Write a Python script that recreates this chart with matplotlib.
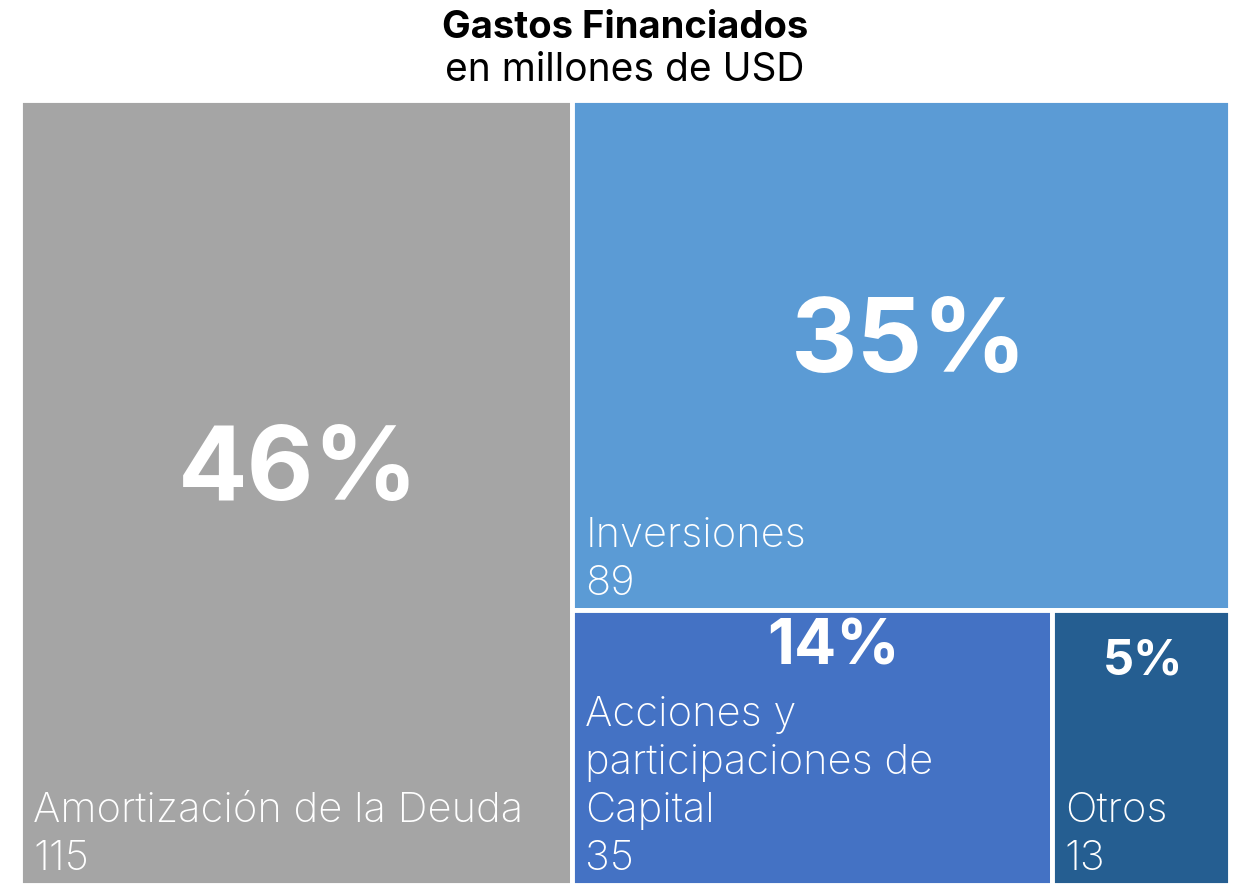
import matplotlib.pyplot as plt
from matplotlib.patches import Rectangle

# datos del treemap
categorias = ["Amortización de la Deuda", "Inversiones", "Acciones y\nparticipaciones de\nCapital", "Otros"]
valores = [115, 89, 35, 13]
porcentajes = ["46%", "35%", "14%", "5%"]
colores = ["#A5A5A5", "#5B9BD5", "#4472C4", "#255E91"]

plt.rcParams['font.family'] = ['Inter', 'DejaVu Sans']

W, H = 1240, 885
fig = plt.figure(figsize=(W / 100, H / 100), dpi=100)
ax = fig.add_axes([0, 0, 1, 1])
ax.set_xlim(0, W)
ax.set_ylim(H, 0)
ax.axis("off")

# zona del treemap en pixeles
x0, y0, x1, y1 = 20, 100, 1230, 885
total = sum(valores)

# columna izquierda: primer elemento
w0 = (x1 - x0) * valores[0] / total
resto = sum(valores[1:])
# derecha arriba: segundo elemento
h1 = (y1 - y0) * valores[1] / resto
abajo = sum(valores[2:])
w2 = (x1 - x0 - w0) * valores[2] / abajo

rects = [
    (x0, y0, w0, y1 - y0),
    (x0 + w0, y0, x1 - x0 - w0, h1),
    (x0 + w0, y0 + h1, w2, y1 - y0 - h1),
    (x0 + w0 + w2, y0 + h1, x1 - x0 - w0 - w2, y1 - y0 - h1),
]

# linea base del porcentaje (fraccion de la altura), tamano y desplazamiento x
pct_pos = [0.51, 0.533, 0.2, 0.235]
pct_size = [74, 74, 45, 35]
pct_dx = [2, 8, 21, 2]

for i, (rx, ry, rw, rh) in enumerate(rects):
    ax.add_patch(Rectangle((rx, ry), rw, rh, facecolor=colores[i],
                           edgecolor="white", linewidth=3.5))
    ax.text(rx + rw / 2 + pct_dx[i], ry + rh * pct_pos[i], porcentajes[i], color="white",
            fontsize=pct_size[i], fontweight="bold", ha="center", va="baseline")
    lineas = categorias[i].split("\n")
    base = ry + rh - 15
    ax.text(rx + 13, base, str(valores[i]), color="white", fontsize=30,
            fontweight="light", ha="left", va="baseline")
    for j, linea in enumerate(reversed(lineas)):
        ax.text(rx + 13, base - 48 * (j + 1), linea, color="white", fontsize=30,
                fontweight="light", ha="left", va="baseline")

ax.text(W / 2 + 5, 38, "Gastos Financiados", fontsize=27.5, fontweight="bold",
        ha="center", va="baseline", color="black")
ax.text(W / 2 + 5, 81, "en millones de USD", fontsize=28,
        ha="center", va="baseline", color="black")

fig.savefig("out.png", dpi=100)
